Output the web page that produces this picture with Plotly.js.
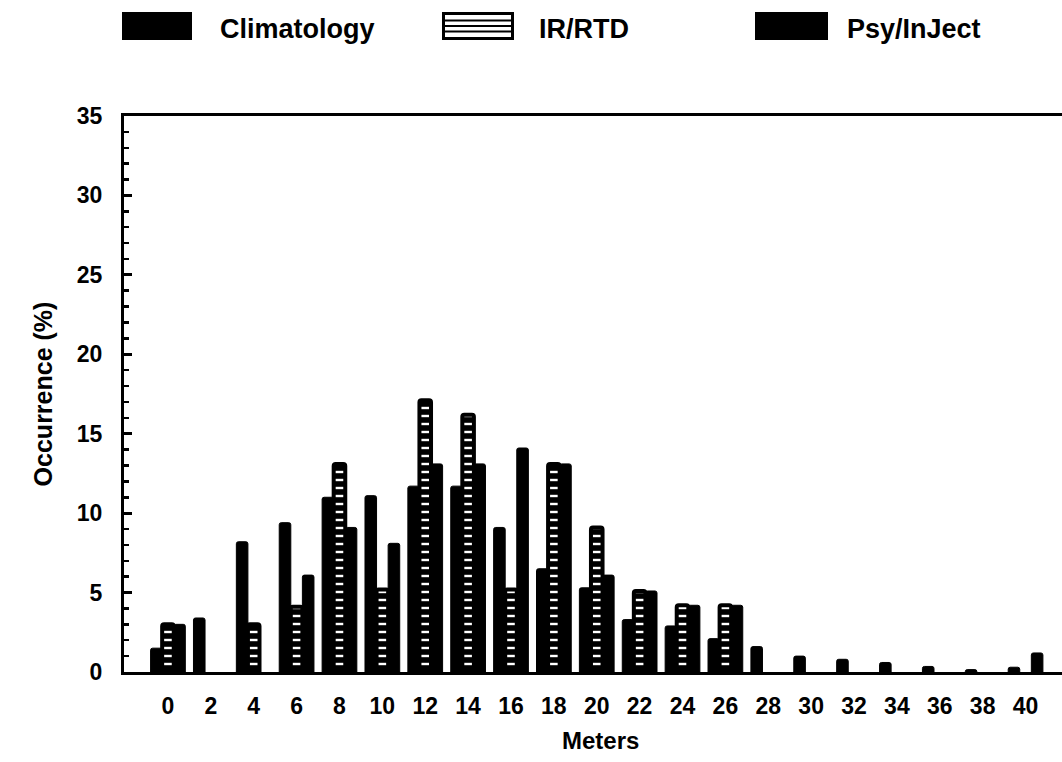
<!DOCTYPE html>
<html>
<head>
<meta charset="utf-8">
<script src="https://cdn.plot.ly/plotly-3.0.1.min.js"></script>
<style>html,body{margin:0;padding:0;background:#fff;}#chart{width:1062px;height:762px;}</style>
</head>
<body>
<div id="chart"></div>
<script>
// Height bins (meters)
const meters = [0, 2, 4, 6, 8, 10, 12, 14, 16, 18, 20, 22, 24, 26, 28, 30, 32, 34, 36, 38, 40];
const tickLabels = ["0","2","4","6","8","10","12","14","16","18","20","22","24","26","28","30","32","34","36","38","40"];
// Occurrence (%) per series
const climatology = [1.5, 3.4, 8.2, 9.4, 11.0, 11.1, 11.7, 11.7, 9.1, 6.5, 5.3, 3.3, 2.9, 2.1, 1.6, 1.0, 0.8, 0.6, 0.35, 0.15, 0.3];
const irRtd      = [3.0, 0, 3.0, 4.1, 13.1, 5.2, 17.1, 16.2, 5.2, 13.1, 9.1, 5.1, 4.2, 4.2, 0, 0, 0, 0, 0, 0, 0];
const psyInject  = [3.0, 0, 0, 6.1, 9.1, 8.1, 13.1, 13.1, 14.1, 13.1, 6.1, 5.1, 4.2, 4.2, 0, 0, 0, 0, 0, 0, 1.2];
const seriesNames = ["Climatology", "IR/RTD", "Psy/InJect"];
const xTitle = "Meters";
const yTitle = "Occurrence (%)";

const FONT = "Liberation Sans, Arial, Helvetica, sans-serif";
const noZero = arr => arr.map(v => (v === 0 ? null : v));

const traces = [
  {type:"bar", name:seriesNames[0], x:meters, y:noZero(climatology),
   marker:{color:"#000", line:{color:"#000", width:1}}},
  {type:"bar", name:seriesNames[1], x:meters, y:noZero(irRtd),
   marker:{color:"#000", line:{color:"#000", width:4},
           pattern:{shape:"-", fillmode:"replace", bgcolor:"#000", fgcolor:"#fff", size:8, solidity:0.3}}},
  {type:"bar", name:seriesNames[2], x:meters, y:noZero(psyInject),
   marker:{color:"#000", line:{color:"#000", width:1}}}
];

// legend drawn as shapes + annotations (paper coords)
const L = 124, R = 1062, T = 116, B = 672;
const px = v => (v - L) / (R - L);
const py = v => (B - v) / (B - T);

const shapes = [
  {type:"rect", xref:"paper", yref:"paper", x0:px(122), x1:px(192), y0:py(40), y1:py(12), fillcolor:"#000", line:{width:0}},
  {type:"rect", xref:"paper", yref:"paper", x0:px(442), x1:px(514), y0:py(40), y1:py(12), fillcolor:"#000", line:{width:0}},
  {type:"rect", xref:"paper", yref:"paper", x0:px(445), x1:px(511), y0:py(37), y1:py(15), fillcolor:"#fff", line:{width:0}},
  {type:"line", xref:"paper", yref:"paper", x0:px(445), x1:px(511), y0:py(20.5), y1:py(20.5), line:{color:"#000", width:2}},
  {type:"line", xref:"paper", yref:"paper", x0:px(445), x1:px(511), y0:py(26), y1:py(26), line:{color:"#000", width:2}},
  {type:"line", xref:"paper", yref:"paper", x0:px(445), x1:px(511), y0:py(31.5), y1:py(31.5), line:{color:"#000", width:2}},
  {type:"rect", xref:"paper", yref:"paper", x0:px(755), x1:px(828), y0:py(40), y1:py(12), fillcolor:"#000", line:{width:0}}
];
const legendText = [[218, seriesNames[0]], [537, seriesNames[1]], [845, seriesNames[2]]];
const annotations = legendText.map(([x, t]) => ({
  xref:"paper", yref:"paper", x:px(x), y:py(29), xanchor:"left", yanchor:"middle",
  text:t, showarrow:false, font:{family:FONT, size:27, color:"#000", weight:"bold"}
}));
annotations.push({
  xref:"paper", yref:"paper", x:px(600), y:py(741), xanchor:"center", yanchor:"middle",
  text:xTitle, showarrow:false, font:{family:FONT, size:24, color:"#000", weight:"bold"}
});

const layout = {
  width:1062, height:762,
  margin:{l:L, r:0, t:T, b:762-B},
  paper_bgcolor:"#fff", plot_bgcolor:"#fff",
  showlegend:false,
  barmode:"group", bargap:0.19, bargroupgap:0,
  barcornerradius:2,
  font:{family:FONT, color:"#000"},
  xaxis:{
    range:[-2.05, 41.7], tickvals:meters, ticktext:tickLabels,
    showgrid:false, zeroline:false, showline:true, mirror:true, linecolor:"#000", linewidth:3,
    ticks:"", ticklabelstandoff:11,
    tickfont:{family:FONT, size:23, color:"#000", weight:"bold"}
  },
  yaxis:{
    range:[0,35], dtick:5, tick0:0,
    showgrid:false, zeroline:false, showline:true, linecolor:"#000", linewidth:3,
    ticks:"inside", ticklen:8, tickwidth:3, tickcolor:"#000",
    minor:{ticks:"inside", dtick:1, ticklen:5, tickwidth:2.5, tickcolor:"#000"},
    ticklabelstandoff:14,
    tickfont:{family:FONT, size:23, color:"#000", weight:"bold"},
    title:{text:yTitle, font:{family:FONT, size:25, color:"#000", weight:"bold"}, standoff:18}
  },
  shapes:shapes,
  annotations:annotations
};

Plotly.newPlot("chart", traces, layout, {staticPlot:true, displayModeBar:false});
</script>
</body>
</html>
